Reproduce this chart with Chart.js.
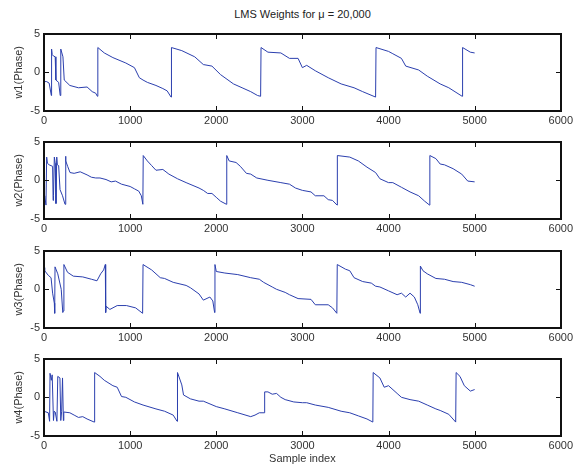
<!DOCTYPE html>
<html>
<head>
<meta charset="utf-8">
<script src="https://cdn.jsdelivr.net/npm/chart.js@4.4.0/dist/chart.umd.min.js"></script>
<style>
  body { margin: 0; background: #fff; }
  #wrap { position: relative; width: 576px; height: 465px; }
  canvas { position: absolute; left: 0; }
  #title { position: absolute; top: 8px; left: 44px; width: 517px; text-align: center;
           font: 11px "Liberation Sans", Arial, sans-serif; color: #222; }
</style>
</head>
<body>
<div id="wrap">
  <div id="title">LMS Weights for μ = 20,000</div>
  <canvas id="c1"></canvas>
  <canvas id="c2"></canvas>
  <canvas id="c3"></canvas>
  <canvas id="c4"></canvas>
</div>
<script>
// tick labels
var xTicks = [0, 1000, 2000, 3000, 4000, 5000, 6000];
var yTicks = [-5, 0, 5];
var yLabels = ['w1(Phase)', 'w2(Phase)', 'w3(Phase)', 'w4(Phase)'];

// w1 phase
var w1X = [0, 30, 60, 85, 88, 95, 110, 130, 138, 170, 188, 195, 220, 235, 300, 400, 500, 560, 600, 620,
  625, 700, 800, 950, 1050, 1107, 1150, 1200, 1300, 1380, 1430, 1475,
  1480, 1600, 1750, 1850, 1950, 2050, 2200, 2300, 2400, 2480, 2515,
  2520, 2600, 2750, 2850, 2950, 3000, 3050, 3150, 3300, 3450, 3600, 3700, 3850,
  3855, 4000, 4050, 4150, 4200, 4350, 4450, 4600, 4700, 4855,
  4860, 4950, 5000];
var w1Y = [-1.2, -1.2, -1.4, -3.0, 3.0, 2.3, 2.1, 2.0, -1.0, -1.3, -3.0, 3.0, 2.0, -1.0, -1.7, -2.0, -1.9, -2.5, -2.7, -3.1,
  3.2, 2.5, 1.9, 1.2, 0.6, -0.7, -1.0, -1.3, -1.7, -2.1, -2.4, -3.2,
  3.2, 2.8, 2.0, 1.0, 0.8, -0.3, -1.5, -2.0, -2.5, -3.0, -3.1,
  3.2, 2.6, 2.5, 1.8, 1.8, 0.6, 0.9, 0.2, -0.7, -1.5, -2.0, -2.5, -3.2,
  3.2, 2.7, 2.4, 1.8, 0.8, 0.3, -0.5, -1.5, -2.0, -3.1,
  3.2, 2.6, 2.5];

// w2 phase
var w2X = [0, 8, 23, 31, 40, 60, 100, 106, 110, 120, 130, 139, 148, 155, 170, 186, 215, 244, 250, 255, 275, 302,
  350, 420, 500, 550, 600, 650, 720, 780, 830, 900, 1000, 1050, 1100, 1130, 1148,
  1152, 1200, 1250, 1300, 1380, 1450, 1550, 1650, 1800, 1850, 1900, 1950, 2000, 2050, 2118,
  2122, 2150, 2230, 2280, 2350, 2400, 2470, 2600, 2750, 2850, 2920, 3000, 3100, 3150, 3250, 3300, 3350, 3402,
  3406, 3550, 3650, 3750, 3850, 3900, 4000, 4050, 4150, 4250, 4350, 4420, 4476,
  4480, 4550, 4600, 4650, 4750, 4850, 4920, 5000];
var w2Y = [-2.2, -2.0, -3.2, 3.0, 2.2, 2.0, 1.8, -2.6, -2.0, 3.0, 2.2, -3.0, 3.0, 2.0, 1.9, -1.2, -2.0, -3.1, 3.1, 2.5, 1.8, 1.0,
  0.9, 1.1, 0.7, 0.4, 0.3, 0.3, 0.1, -0.2, -0.1, -0.5, -0.8, -1.1, -1.4, -2.0, -3.1,
  3.2, 2.5, 1.9, 1.3, 1.4, 0.8, 0.2, -0.3, -1.0, -1.3, -1.7, -1.7, -2.2, -2.7, -3.1,
  3.2, 2.5, 2.3, 1.8, 0.9, 0.8, 0.3, 0.0, -0.3, -0.5, -1.0, -1.3, -1.5, -2.0, -2.0, -2.5, -2.6, -3.2,
  3.2, 3.0, 2.5, 1.7, 1.0, 0.2, -0.3, -0.3, -0.9, -1.5, -2.0, -2.7, -3.2,
  3.2, 2.8, 2.1, 2.0, 1.5, 0.8, -0.1, -0.2];

// w3 phase
var w3X = [0, 8, 50, 82, 100, 120, 124, 128, 160, 200, 218, 224, 231, 273, 340, 450, 551, 615, 658, 692, 712,
  716, 722, 765, 850, 957, 1064, 1145,
  1150, 1250, 1350, 1400, 1500, 1650, 1700, 1800, 1850, 1926, 1960, 1981,
  1985, 2000, 2100, 2250, 2400, 2500, 2550, 2650, 2700, 2800, 2850, 2950, 3100, 3150, 3300, 3350, 3400,
  3405, 3500, 3550, 3600, 3700, 3800, 3850, 3900, 4000, 4100, 4150, 4200, 4250, 4300, 4340, 4367,
  4370, 4400, 4450, 4550, 4650, 4750, 4850, 4950, 5000];
var w3Y = [2.8, 2.4, 1.8, 1.5, -0.5, -1.8, -3.1, 2.9, 2.0, 0.0, -3.0, -2.8, 3.2, 2.2, 1.7, 1.6, 1.3, 1.1, 2.0, 2.5, 3.2,
  -3.0, -2.2, -2.6, -2.1, -2.1, -2.4, -3.1,
  3.2, 2.5, 1.5, 1.4, 0.9, 0.5, 0.2, -0.6, -1.4, -1.0, -1.5, -3.0,
  3.2, 2.3, 2.1, 1.9, 1.5, 1.3, 0.9, 0.3, 0.0, -0.4, -0.7, -1.2, -1.3, -2.0, -2.0, -2.4, -3.1,
  3.2, 2.6, 2.4, 1.5, 1.0, 0.8, 0.4, 0.3, -0.2, -0.7, -0.5, -1.0, -0.5, -1.0, -2.0, -3.1,
  3.0, 2.4, 2.0, 1.4, 1.3, 1.0, 0.9, 0.6, 0.4];

// w4 phase
var w4X = [0, 50, 65, 70, 85, 95, 110, 118, 130, 150, 160, 185, 195, 205, 215, 225, 230, 300, 350, 400, 450, 500, 583,
  588, 650, 700, 800, 850, 900, 950, 1050, 1150, 1300, 1400, 1500, 1545,
  1550, 1600, 1620, 1700, 1800, 1850, 2000, 2100, 2250, 2400, 2450, 2500, 2556,
  2562, 2600, 2650, 2700, 2750, 2800, 2900, 3000, 3050, 3150, 3300, 3450, 3550, 3650, 3750, 3818,
  3822, 3900, 3950, 4000, 4100, 4150, 4250, 4350, 4450, 4550, 4600, 4700, 4780,
  4785, 4830, 4880, 4950, 5000];
var w4Y = [-1.8, -2.0, -3.1, 3.1, 2.2, 2.9, -3.0, -1.8, -1.9, -3.1, 2.7, 2.5, -3.0, -1.8, 2.5, -3.0, -1.9, -2.0, -2.3, -2.6, -2.5, -2.8, -3.2,
  3.2, 2.7, 2.2, 1.5, 1.3, 0.1, 0.0, -0.6, -1.0, -1.5, -1.8, -2.3, -3.1,
  3.2, 1.6, 0.3, -0.2, -0.5, -0.5, -1.2, -1.5, -2.0, -2.5, -2.3, -2.0, -2.0,
  0.7, 0.7, 0.4, 0.5, 0.0, -0.3, -0.6, -0.7, -0.7, -1.0, -1.3, -1.8, -2.0, -2.4, -2.8, -3.2,
  3.2, 2.5, 1.3, 1.5, 0.5, 0.0, -0.3, -0.5, -1.0, -1.5, -1.7, -2.2, -3.2,
  3.2, 2.7, 1.5, 0.8, 1.0];

var allX = [w1X, w2X, w3X, w4X];
var allY = [w1Y, w2Y, w3Y, w4Y];
var plotTops = [29, 137, 246, 354];

var FONT = '"Liberation Sans", Arial, sans-serif';

// closed box with inward tick marks, MATLAB style
var boxPlugin = {
  id: 'box',
  afterDraw: function (chart) {
    var ctx = chart.ctx, a = chart.chartArea;
    var xs = chart.scales.x, ys = chart.scales.y;
    var l = Math.round(a.left), r = Math.round(a.right), t = Math.round(a.top), b = Math.round(a.bottom);
    ctx.save();
    ctx.strokeStyle = '#111';
    ctx.lineWidth = 2;
    ctx.beginPath();
    ctx.moveTo(l, t); ctx.lineTo(r, t); ctx.lineTo(r, b); ctx.lineTo(l, b); ctx.closePath();
    ctx.stroke();
    ctx.lineWidth = 1;
    ctx.beginPath();
    xTicks.forEach(function (v) {
      var px = Math.round(xs.getPixelForValue(v)) + 0.5;
      ctx.moveTo(px, b); ctx.lineTo(px, b - 5);
      ctx.moveTo(px, t); ctx.lineTo(px, t + 5);
    });
    yTicks.forEach(function (v) {
      var py = Math.round(ys.getPixelForValue(v)) + 0.5;
      ctx.moveTo(l, py); ctx.lineTo(l + 5, py);
      ctx.moveTo(r, py); ctx.lineTo(r - 5, py);
    });
    ctx.stroke();
    ctx.restore();
  }
};

for (var i = 0; i < 4; i++) {
  var last = i === 3;
  var canvas = document.getElementById('c' + (i + 1));
  var h = 6 + 82 + (last ? 30 : 20);
  canvas.style.top = (plotTops[i] - 6) + 'px';
  canvas.width = 576; canvas.height = h;
  canvas.style.width = '576px'; canvas.style.height = h + 'px';

  var pts = allX[i].map(function (x, k) { return { x: x, y: allY[i][k] }; });

  new Chart(canvas, {
    type: 'line',
    data: {
      datasets: [{
        data: pts,
        borderColor: '#2b3fae',
        borderWidth: 1,
        pointRadius: 0,
        tension: 0,
        fill: false
      }]
    },
    options: {
      responsive: false,
      animation: false,
      layout: { padding: { top: 6, right: 15, left: 0, bottom: 0 } },
      plugins: { legend: { display: false }, tooltip: { enabled: false } },
      scales: {
        x: {
          type: 'linear', min: 0, max: 6000,
          afterBuildTicks: function (s) { s.ticks = xTicks.map(function (v) { return { value: v }; }); },
          afterFit: function (s) { s.height = last ? 30 : 20; },
          grid: { display: false, drawTicks: false },
          border: { display: false },
          ticks: { color: '#333', font: { family: FONT, size: 11 }, padding: 3, maxRotation: 0,
                   callback: function (v) { return v; } },
          title: { display: last, text: 'Sample index', color: '#333', padding: { top: 0, bottom: 0 },
                   font: { family: FONT, size: 11 } }
        },
        y: {
          type: 'linear', min: -5, max: 5,
          afterBuildTicks: function (s) { s.ticks = yTicks.map(function (v) { return { value: v }; }); },
          afterFit: function (s) { s.width = 44; },
          grid: { display: false, drawTicks: false },
          border: { display: false },
          ticks: { color: '#333', font: { family: FONT, size: 11 }, padding: 4 },
          title: { display: true, text: yLabels[i], color: '#333', padding: { top: 12, bottom: 0 },
                   font: { family: FONT, size: 11 } }
        }
      }
    },
    plugins: [boxPlugin]
  });
}
</script>
</body>
</html>
